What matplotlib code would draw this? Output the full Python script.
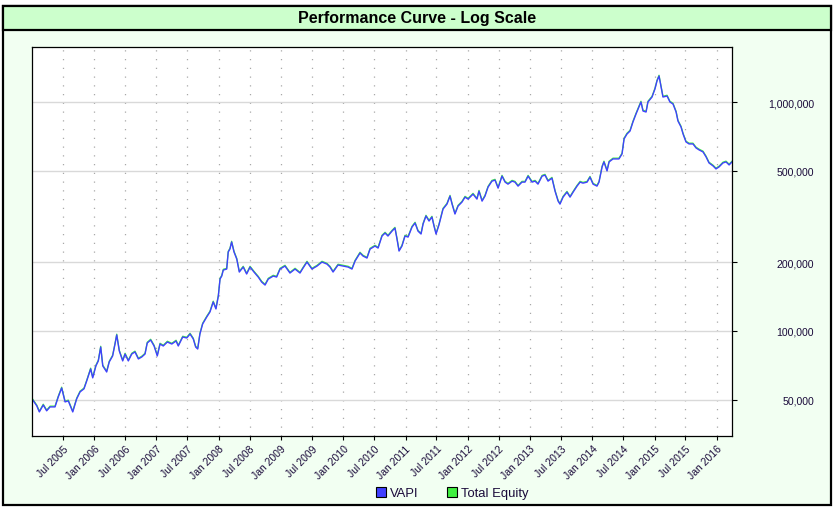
import matplotlib
matplotlib.use("Agg")
import matplotlib.pyplot as plt
import matplotlib.dates as mdates
import matplotlib.ticker as mticker
import matplotlib.transforms as mtransforms
from matplotlib.patches import Rectangle
from matplotlib.lines import Line2D
import pandas as pd

plt.rcParams['font.family'] = ['Liberation Sans', 'DejaVu Sans']

# values
dates = [
    "2005-01-05", "2005-01-29", "2005-02-13", "2005-03-08", "2005-03-28", "2005-04-17", "2005-05-16",
    "2005-06-04", "2005-06-24", "2005-07-14", "2005-08-02", "2005-08-28", "2005-09-20", "2005-10-10",
    "2005-11-02", "2005-11-18", "2005-12-11", "2005-12-23", "2006-01-11", "2006-01-25", "2006-02-08",
    "2006-02-20", "2006-03-15", "2006-03-30", "2006-04-19", "2006-05-03", "2006-05-13", "2006-05-28",
    "2006-06-17", "2006-07-01", "2006-07-20", "2006-08-09", "2006-08-28", "2006-09-17", "2006-10-07",
    "2006-10-26", "2006-11-08", "2006-11-28", "2006-12-18", "2007-01-06", "2007-01-22", "2007-02-10",
    "2007-03-06", "2007-04-01", "2007-04-26", "2007-05-09", "2007-06-04", "2007-06-28", "2007-07-17",
    "2007-08-05", "2007-08-19", "2007-08-31", "2007-09-13", "2007-09-29", "2007-10-23", "2007-11-11",
    "2007-11-30", "2007-12-16", "2007-12-30", "2008-01-09", "2008-01-19", "2008-01-28", "2008-02-17",
    "2008-02-26", "2008-03-07", "2008-03-17", "2008-03-31", "2008-04-16", "2008-05-01", "2008-05-24",
    "2008-06-13", "2008-07-03", "2008-07-26", "2008-08-20", "2008-09-09", "2008-09-29", "2008-10-18",
    "2008-11-16", "2008-12-06", "2008-12-26", "2009-01-24", "2009-02-22", "2009-03-24", "2009-04-22",
    "2009-05-10", "2009-06-02", "2009-07-01", "2009-07-31", "2009-08-29", "2009-09-27", "2009-10-15",
    "2009-11-02", "2009-12-01", "2009-12-30", "2010-01-29", "2010-02-21", "2010-03-11", "2010-04-09",
    "2010-04-27", "2010-05-20", "2010-06-07", "2010-07-06", "2010-07-24", "2010-08-16", "2010-09-03",
    "2010-09-20", "2010-10-14", "2010-10-31", "2010-11-12", "2010-11-24", "2010-12-11", "2010-12-29",
    "2011-01-16", "2011-02-08", "2011-02-26", "2011-03-15", "2011-04-02", "2011-04-14", "2011-05-01",
    "2011-05-19", "2011-06-05", "2011-06-17", "2011-06-29", "2011-07-16", "2011-08-09", "2011-09-01",
    "2011-09-19", "2011-10-01", "2011-10-18", "2011-11-05", "2011-11-28", "2011-12-16", "2012-01-03",
    "2012-02-01", "2012-02-24", "2012-03-07", "2012-03-25", "2012-04-11", "2012-04-29", "2012-05-22",
    "2012-06-09", "2012-06-27", "2012-07-20", "2012-08-07", "2012-08-24", "2012-09-17", "2012-10-04",
    "2012-10-22", "2012-11-14", "2012-12-02", "2012-12-20", "2013-01-12", "2013-01-30", "2013-02-16",
    "2013-03-12", "2013-03-29", "2013-04-16", "2013-05-09", "2013-05-27", "2013-06-14", "2013-06-25",
    "2013-07-13", "2013-08-05", "2013-08-23", "2013-09-10", "2013-10-03", "2013-10-21", "2013-11-07",
    "2013-12-01", "2013-12-18", "2014-01-05", "2014-01-28", "2014-02-09", "2014-02-27", "2014-03-10",
    "2014-03-28", "2014-04-09", "2014-05-02", "2014-05-20", "2014-06-06", "2014-06-24", "2014-07-06",
    "2014-07-23", "2014-08-10", "2014-08-27", "2014-09-14", "2014-09-26", "2014-10-13", "2014-10-25",
    "2014-11-12", "2014-11-23", "2014-12-17", "2015-01-03", "2015-01-15", "2015-01-27", "2015-02-08",
    "2015-02-19", "2015-03-15", "2015-04-01", "2015-04-19", "2015-05-07", "2015-05-18", "2015-06-05",
    "2015-06-17", "2015-07-04", "2015-07-22", "2015-08-14", "2015-09-01", "2015-09-19", "2015-10-12",
    "2015-10-30", "2015-11-16", "2015-12-10", "2015-12-27", "2016-01-14", "2016-02-06", "2016-02-24",
    "2016-03-13", "2016-03-30",
]
vapi = [
    50000, 47100, 44300, 47500, 44800, 46600, 46600,
    51500, 56400, 49000, 49500, 44300, 50500, 54200,
    55900, 60500, 68300, 62400, 70400, 74000, 85100,
    70400, 66200, 73200, 77800, 87700, 96100, 81800,
    74000, 79300, 74000, 79300, 81000, 75500, 77000,
    79300, 88600, 91300, 86000, 77800, 87700, 86000,
    89500, 87700, 90400, 86000, 94100, 93200, 97000,
    92300, 85100, 83400, 97000, 107300, 115100, 121100,
    133900, 124800, 142100, 168600, 173700, 184500, 186400,
    221200, 227900, 244600, 221200, 206100, 180900, 190200,
    177300, 190200, 180900, 172000, 163600, 158700, 168600,
    173700, 172000, 186400, 192100, 179100, 186400, 179100,
    188300, 200000, 186400, 192100, 200000, 196000, 190200,
    180900, 194100, 192100, 190200, 186400, 202000, 219000,
    212400, 208200, 227900, 234900, 230200, 259800, 267700,
    259800, 273100, 281400, 252000, 223400, 234900, 259800,
    257100, 284300, 296100, 273100, 265100, 293100, 317700,
    302100, 314500, 287300, 265100, 290300, 340800, 358100,
    388100, 358100, 324200, 351000, 365400, 384200, 376600,
    396000, 376600, 408100, 369100, 388100, 424900, 451300,
    455900, 420600, 474600, 446800, 437900, 451300, 446800,
    429200, 446800, 446800, 474600, 446800, 451300, 437900,
    474600, 479400, 451300, 465100, 408100, 369100, 358100,
    384200, 404000, 384200, 404000, 429200, 446800, 442300,
    446800, 469800, 437900, 429200, 446800, 520600, 547400,
    500000, 547400, 564200, 564200, 564200, 593300, 689900,
    724800, 747000, 817800, 886300, 931900, 1000000, 913400,
    904300, 1000000, 1051600, 1139700, 1235100, 1298900, 1162800,
    1051600, 1062200, 1000000, 980100, 904300, 826000, 777900,
    724800, 669400, 656100, 656100, 630200, 617700, 605300,
    575600, 541900, 525800, 510200, 520600, 541900, 547400,
    531100, 547400,
]
equity = list(vapi)

y_ticks = [50000, 100000, 200000, 500000, 1000000]
x_ticks = pd.date_range("2005-07-01", "2016-01-01", freq="6MS")
series_names = ["VAPI", "Total Equity"]
series_colors = ["#4040FF", "#40F040"]

dt = pd.to_datetime(dates)
text_col = "#1a0a3a"

fig = plt.figure(figsize=(8.35, 5.1), dpi=100, facecolor="white")

# panel background and title band
fig.add_artist(Rectangle((3 / 835, 4 / 510), 828 / 835, 499 / 510, transform=fig.transFigure,
                         facecolor="#F2FFF2", edgecolor="black", lw=1.6, zorder=-2))
fig.add_artist(Rectangle((3 / 835, 479 / 510), 828 / 835, 24 / 510, transform=fig.transFigure,
                         facecolor="#CCFFCC", edgecolor="black", lw=1.6, zorder=-1))
fig.text(0.5, 491 / 510, "Performance Curve - Log Scale", ha="center", va="center",
         fontsize=11.5, fontweight="bold", color="black")

ax = fig.add_axes([32 / 835, 73 / 510, 700 / 835, 389 / 510])
ax.set_facecolor("white")

# equity drawn underneath, nudged up a pixel so it peeks out at the tops
green_tr = mtransforms.offset_copy(ax.transData, fig=fig, x=0, y=0.8, units="dots")
ax.plot(dt, equity, color=series_colors[1], lw=0.9, transform=green_tr)
ax.plot(dt, vapi, color=series_colors[0], lw=1.0)

ax.set_yscale("log")
ax.set_ylim(34780, 1739000)
ax.set_xlim(pd.Timestamp("2005-01-01"), pd.Timestamp("2016-03-30"))

ax.yaxis.tick_right()
ax.yaxis.set_major_locator(mticker.FixedLocator(y_ticks))
ax.yaxis.set_minor_locator(mticker.NullLocator())
ax.yaxis.set_major_formatter(mticker.FuncFormatter(lambda v, p: f"{int(round(v)):,}"))
ax.tick_params(axis="y", which="major", direction="out", length=3.6, width=0.8,
               pad=55.4, labelsize=7.6, labelcolor=text_col)
plt.setp(ax.get_yticklabels(), ha="right")

ax.xaxis.set_major_locator(mticker.FixedLocator(mdates.date2num(x_ticks)))
ax.xaxis.set_minor_locator(mticker.NullLocator())
ax.xaxis.set_major_formatter(mdates.DateFormatter("%b %Y"))
ax.tick_params(axis="x", which="major", direction="out", length=3.2, width=0.8,
               pad=2, labelsize=7.5, labelcolor=text_col)
plt.setp(ax.get_xticklabels(), rotation=45, ha="right", rotation_mode="anchor")

ax.set_axisbelow(True)
ax.grid(axis="y", which="major", color="#D9D9D9", lw=1.0, ls="-")
ax.grid(axis="x", which="major", color="#A8A8A8", lw=0.9, ls=(0, (1, 6)))
for sp in ax.spines.values():
    sp.set_color("black")
    sp.set_linewidth(0.9)

handles = [Line2D([], [], marker="s", ls="none", markersize=6.5, markerfacecolor=c,
                  markeredgecolor="black", markeredgewidth=0.8) for c in series_colors]
fig.legend(handles, series_names, loc="center", bbox_to_anchor=(452 / 835, 16 / 510), ncol=2,
           frameon=False, fontsize=9.4, handletextpad=0.3, columnspacing=2.2,
           handlelength=0.8, labelcolor=text_col)

fig.savefig("out.png", dpi=100, facecolor="white")
